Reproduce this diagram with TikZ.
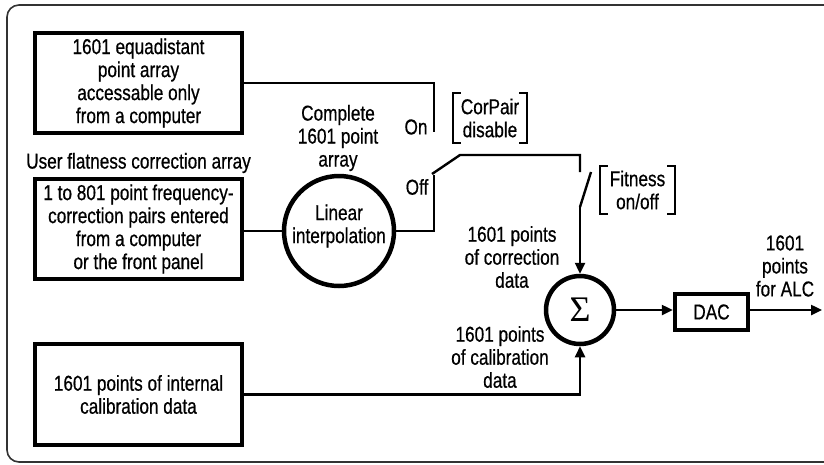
\documentclass[tikz,border=0pt]{standalone}
\usepackage{fontspec}
\setmainfont[FakeStretch=0.8,FakeBold=0.6]{Liberation Sans}
\newfontfamily\sigmafont{Liberation Serif}
\usetikzlibrary{positioning,arrows.meta}

\begin{document}
\begin{tikzpicture}[x=1pt,y=-1pt,
    every node/.style={font=\fontsize{21.5}{23}\selectfont, align=center},
    block/.style={draw, line width=4.5pt, minimum width=207pt, inner sep=0pt},
    disc/.style={draw, circle, line width=4.5pt, inner sep=0pt},
    wire/.style={line width=2.4pt, line join=miter},
    arr/.style={wire, -{Triangle[length=11pt,width=10pt]}},
    bracket/.style={line width=1.6pt},
    tag/.style={inner sep=0pt}]
    \useasboundingbox (0,0) rectangle (824,464);
    \draw [line width=1.6pt, black!80, rounded corners=12pt] (7,5) rectangle (850,462);
    % blocks on the left
    \node [block, minimum height=100pt] (equi) at (138.5,83) {1601 equadistant\\point array\\accessable only\\from a computer};
    \node (user) at (138.5,163) {User flatness correction array};
    \node [block, minimum height=100pt] (pairs) at (138.5,229) {1 to 801 point frequency-\\correction pairs entered\\from a computer\\or the front panel};
    \node [block, minimum height=101pt] (intcal) at (138.5,394.5) {1601 points of internal\\calibration data};
    % interpolation and sum
    \node [disc, minimum size=110pt] (interp) at (339,231) {};
    \node (interptxt) at (339,226) {Linear\\interpolation};
    \node (complete) at (338,138) {Complete\\1601 point\\array};
    \node [disc, minimum size=68pt, font=\sigmafont\fontsize{36}{36}\selectfont] (sum) at (580,310) {Σ};
    \node [draw, line width=4.5pt, minimum width=73pt, minimum height=36pt] (dac) at (711.5,312) {DAC};
    % switch contacts
    \coordinate (on) at (434,132);
    \coordinate (off) at (434,175);
    \coordinate (pivot) at (432,174);
    \coordinate (lever) at (460,155);
    \coordinate (fitin) at (580,172);
    \coordinate (fittip) at (591,172);
    \coordinate (fitpivot) at (580,207);
    \coordinate (out) at (822,310);
    \node (onlbl) at (416,127) {On};
    \node (offlbl) at (417,187) {Off};
    % brackets
    \node [tag, minimum width=74pt, minimum height=50pt] (corpair) at (490,118) {CorPair\\disable};
    \node [tag, minimum width=75pt, minimum height=48pt] (fitness) at (637.5,190) {Fitness\\on/off};
    \foreach \b in {corpair,fitness} {
        \draw [bracket] ([xshift=8pt]\b.north west) -- (\b.north west) -- (\b.south west) -- ([xshift=8pt]\b.south west);
        \draw [bracket] ([xshift=-8pt]\b.north east) -- (\b.north east) -- (\b.south east) -- ([xshift=-8pt]\b.south east);
    }
    % labels of the data paths
    \node (corrdata) at (512,257) {1601 points\\of correction\\data};
    \node (caldata) at (500,357) {1601 points\\of calibration\\data};
    \node (alc) at (785,266) {1601\\points\\for ALC};
    % wires
    \draw [wire] (equi.east) -- (equi.east -| on) -- (on);
    \draw [wire] (pairs.east |- interp.west) -- (interp.west);
    \draw [wire] (interp.east) -- (interp.east -| off) -- (off);
    \draw [wire] (pivot) -- (lever) -- (lever -| fitin) -- (fitin);
    \draw [wire] (fittip) -- (fitpivot);
    \draw [arr] (fitpivot) -- (sum.north);
    \draw [arr] (intcal.east) -- (intcal.east -| sum) -- (sum.south);
    \draw [arr] (sum.east) -- (sum.east -| dac.west);
    \draw [arr] (sum.east -| dac.east) -- (out);
\end{tikzpicture}
\end{document}
